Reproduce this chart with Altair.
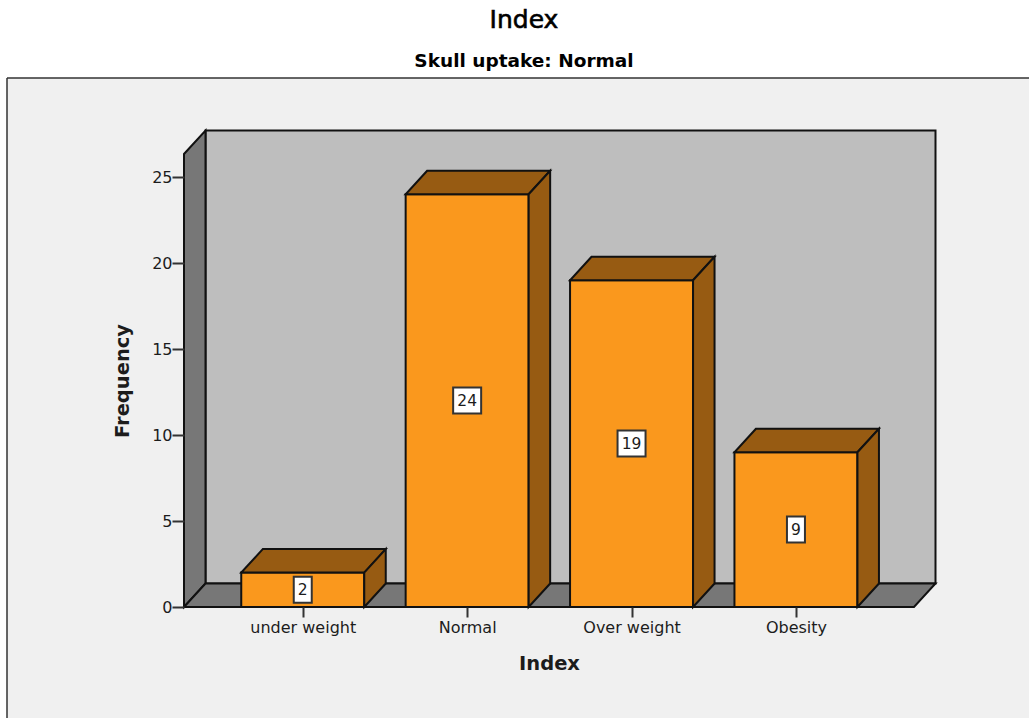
import altair as alt
import pandas as pd

categories = ["under weight", "Normal", "Over weight", "Obesity"]
frequencies = [2, 24, 19, 9]
y_ticks = [0, 5, 10, 15, 20, 25]

FONT = "DejaVu Sans"
INK = "#1c1c1c"
FRONT = "#fa981d"
SHADE = "#975b12"
WALL = "#777777"
BACK = "#bebebe"
PANEL = "#f0f0f0"

# Plot area sits on the front edge of the 3D floor.
PX_PER_SLOT = 164.4
PX_PER_UNIT = 17.2
PLOT_W, PLOT_H = 730, 453
LEFT, TOP = 184, 154
X_MIN = (LEFT - 302.75) / PX_PER_SLOT
X_MAX = X_MIN + PLOT_W / PX_PER_SLOT
Y_MAX = PLOT_H / PX_PER_UNIT
DX = 21.5 / PX_PER_SLOT      # receding depth, horizontal part
DY = 23.5 / PX_PER_UNIT      # receding depth, vertical part
HALF_BAR = 61.5 / PX_PER_SLOT

x_scale = alt.Scale(domain=[X_MIN, X_MAX], nice=False, zero=False)
y_scale = alt.Scale(domain=[0, Y_MAX], nice=False, zero=False)

label_expr = "[" + ",".join(f"'{c}'" for c in categories) + "][datum.value]"

x_axis = alt.Axis(
    values=[0, 1, 2, 3], labelExpr=label_expr, grid=False, domain=False,
    tickSize=10, tickWidth=2, tickColor="#333333", labelPadding=2,
    labelFont=FONT, labelFontSize=16, labelColor=INK, labelAngle=0,
    titleFont=FONT, titleFontSize=19.5, titleFontWeight="bold", titleColor=INK,
    titlePadding=19, zindex=1,
)
y_axis = alt.Axis(
    values=y_ticks, grid=False, domain=False,
    tickSize=12, tickWidth=2, tickColor="#333333", labelPadding=0,
    labelFont=FONT, labelFontSize=16, labelColor=INK,
    titleFont=FONT, titleFontSize=19.5, titleFontWeight="bold", titleColor=INK,
    titlePadding=19, zindex=1,
)


def qx(field="x"):
    return alt.X(f"{field}:Q", scale=x_scale, title="Index", axis=x_axis)


def qy(field="y"):
    return alt.Y(f"{field}:Q", scale=y_scale, title="Frequency", axis=y_axis)


# Panel behind the whole plot, with its top and left border.
one = pd.DataFrame({"a": [0]})
panel = alt.Chart(one).mark_rect(fill=PANEL).encode(
    x=alt.value(7 - LEFT), x2=alt.value(1029 - LEFT),
    y=alt.value(78 - TOP), y2=alt.value(718 - TOP),
)
panel_top = alt.Chart(one).mark_rule(color="#333333", strokeWidth=1.5).encode(
    x=alt.value(7 - LEFT), x2=alt.value(1029 - LEFT), y=alt.value(78 - TOP),
)
panel_left = alt.Chart(one).mark_rule(color="#333333", strokeWidth=1.5).encode(
    x=alt.value(7 - LEFT), y=alt.value(78 - TOP), y2=alt.value(718 - TOP),
)

# Chart heading, centred over the panel.
heading = alt.Chart(one).mark_text(
    font=FONT, fontSize=25, fontWeight="normal", color="#000000", baseline="middle",
    stroke="#000000", strokeWidth=0.6,
).encode(x=alt.value(524 - LEFT), y=alt.value(20 - TOP), text=alt.value("Index"))
subheading = alt.Chart(one).mark_text(
    font=FONT, fontSize=18.5, fontWeight="bold", color="#000000", baseline="middle"
).encode(x=alt.value(524 - LEFT), y=alt.value(61 - TOP), text=alt.value("Skull uptake: Normal"))

# Room: back wall, left wall and floor.
back_wall = alt.Chart(pd.DataFrame([{
    "x": X_MIN + DX, "x2": X_MAX + DX, "y": DY, "y2": Y_MAX + DY,
}])).mark_rect(fill=BACK, stroke="#111111", strokeWidth=2).encode(
    x=qx(), x2="x2:Q", y=qy(), y2="y2:Q",
)
left_wall = alt.Chart(pd.DataFrame([
    {"x": X_MIN, "y": 0, "y2": Y_MAX},
    {"x": X_MIN + DX, "y": DY, "y2": Y_MAX + DY},
])).mark_area(orient="vertical", fill=WALL, stroke="#111111", strokeWidth=2).encode(
    x=qx(), y=qy(), y2="y2:Q",
)
floor = alt.Chart(pd.DataFrame([
    {"y": 0, "x": X_MIN, "x2": X_MAX},
    {"y": DY, "x": X_MIN + DX, "x2": X_MAX + DX},
])).mark_area(orient="horizontal", fill=WALL, stroke="#111111", strokeWidth=2).encode(
    y=qy(), x=qx(), x2="x2:Q",
)

bars_df = pd.DataFrame({
    "cat": categories,
    "pos": range(len(categories)),
    "value": frequencies,
})
bars_df["x"] = bars_df["pos"] - HALF_BAR
bars_df["x2"] = bars_df["pos"] + HALF_BAR
bars_df["y"] = 0.0
bars_df["y2"] = bars_df["value"].astype(float)

front = alt.Chart(bars_df).mark_rect(fill=FRONT, stroke="#111111", strokeWidth=2).encode(
    x=qx(), x2="x2:Q", y=qy(), y2="y2:Q",
)

top_rows, side_rows = [], []
for pos, (cat, v) in enumerate(zip(categories, frequencies)):
    top_rows += [
        {"cat": cat, "y": v, "x": pos - HALF_BAR, "x2": pos + HALF_BAR},
        {"cat": cat, "y": v + DY, "x": pos - HALF_BAR + DX, "x2": pos + HALF_BAR + DX},
    ]
    side_rows += [
        {"cat": cat, "x": pos + HALF_BAR, "y": 0, "y2": v},
        {"cat": cat, "x": pos + HALF_BAR + DX, "y": DY, "y2": v + DY},
    ]
top = alt.Chart(pd.DataFrame(top_rows)).mark_area(
    orient="horizontal", fill=SHADE, stroke="#111111", strokeWidth=2
).encode(y=qy(), x=qx(), x2="x2:Q", detail="cat:N")
side = alt.Chart(pd.DataFrame(side_rows)).mark_area(
    orient="vertical", fill=SHADE, stroke="#111111", strokeWidth=2
).encode(x=qx(), y=qy(), y2="y2:Q", detail="cat:N")

# Value labels centred on each bar, in a white box.
labels_df = bars_df.copy()
labels_df["mid"] = labels_df["value"] / 2
labels_df["text"] = labels_df["value"].astype(str)
half_w = labels_df["text"].str.len().map({1: 9.0, 2: 14.0}) / PX_PER_SLOT
labels_df["bx"] = labels_df["pos"] - half_w
labels_df["bx2"] = labels_df["pos"] + half_w
labels_df["by"] = labels_df["mid"] - 13 / PX_PER_UNIT
labels_df["by2"] = labels_df["mid"] + 13 / PX_PER_UNIT

boxes = alt.Chart(labels_df).mark_rect(fill="white", stroke="#333333", strokeWidth=2).encode(
    x=qx("bx"), x2="bx2:Q", y=qy("by"), y2="by2:Q",
)
texts = alt.Chart(labels_df).mark_text(font=FONT, fontSize=15.5, color=INK, baseline="middle").encode(
    x=qx("pos"), y=qy("mid"), text="text:N",
)

chart = alt.layer(
    panel, panel_top, panel_left, heading, subheading, back_wall, left_wall, floor,
    front, top, side, boxes, texts,
).properties(
    width=PLOT_W,
    height=PLOT_H,
    padding={"left": LEFT, "top": TOP, "right": 1029 - LEFT - PLOT_W, "bottom": 718 - TOP - PLOT_H},
    autosize=alt.AutoSizeParams(type="none"),
).configure_view(stroke=None).configure(background="white")

chart.save("out.html", embed_options={"renderer": "svg", "actions": False})
